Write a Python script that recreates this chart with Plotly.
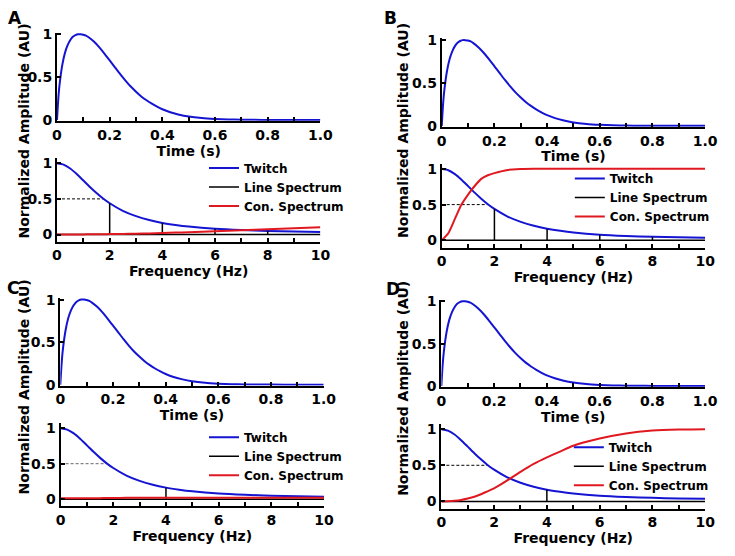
import plotly.graph_objects as go

# ---------------- data ----------------
time_s = [0, 0.005, 0.01, 0.02, 0.03, 0.04, 0.05, 0.06, 0.07, 0.08, 0.09, 0.10,
          0.11, 0.12, 0.14, 0.16, 0.18, 0.20, 0.22, 0.24, 0.26, 0.28, 0.30, 0.32,
          0.34, 0.36, 0.38, 0.40, 0.43, 0.46, 0.50, 0.55, 0.60, 0.65, 0.70, 0.75,
          0.80, 0.90, 1.0]
twitch_time = [0, 0.25, 0.42, 0.64, 0.78, 0.87, 0.93, 0.97, 0.99, 1.0, 1.0, 0.995,
               0.985, 0.965, 0.915, 0.85, 0.775, 0.695, 0.615, 0.535, 0.46, 0.39, 0.33, 0.275,
               0.23, 0.19, 0.155, 0.125, 0.09, 0.065, 0.04, 0.022, 0.012, 0.006, 0.003, 0.0015,
               0.0005, 0, 0]

freq_hz = [0, 0.25, 0.5, 0.75, 1, 1.25, 1.5, 1.75, 2, 2.5, 3, 3.5, 4, 4.5, 5, 6, 7, 8, 9, 10]
twitch_freq = [1.0, 0.98, 0.926, 0.848, 0.758, 0.667, 0.582, 0.505, 0.439, 0.333, 0.258,
               0.203, 0.163, 0.134, 0.111, 0.08, 0.062, 0.05, 0.042, 0.036]

con_A = [0, 0, 0.001, 0.001, 0.002, 0.003, 0.004, 0.005, 0.006, 0.009, 0.012, 0.016,
         0.021, 0.027, 0.033, 0.047, 0.061, 0.075, 0.089, 0.102]
con_B = [0, 0.1, 0.3, 0.5, 0.64, 0.76, 0.86, 0.91, 0.94, 0.985, 0.997, 1.0,
         1.0, 1.0, 1.0, 1.0, 1.0, 1.0, 1.0, 1.0]
con_C = [0.012, 0.012, 0.012, 0.012, 0.012, 0.013, 0.015, 0.017, 0.018, 0.019, 0.02, 0.02,
         0.02, 0.02, 0.02, 0.02, 0.02, 0.02, 0.02, 0.02]
con_D = [0, 0.002, 0.008, 0.02, 0.04, 0.065, 0.1, 0.14, 0.18, 0.29, 0.41, 0.52,
         0.61, 0.69, 0.77, 0.87, 0.94, 0.98, 0.995, 1.0]

lines_AB_freq = [2, 4, 6, 8]
lines_AB_amp = [0.44, 0.16, 0.08, 0.05]
lines_CD_freq = [4]
lines_CD_amp = [0.16]

half_level = 0.5
half_freq = 1.75

panel_labels = ["A", "B", "C", "D"]
legend_names = ["Twitch", "Line Spectrum", "Con. Spectrum"]
time_ticks = [0, 0.2, 0.4, 0.6, 0.8, 1.0]
time_ticktext = ["0", "0.2", "0.4", "0.6", "0.8", "1.0"]
freq_ticks = [0, 2, 4, 6, 8, 10]
freq_ticktext = ["0", "2", "4", "6", "8", "10"]
amp_ticks = [0, 0.5, 1]
amp_ticktext = ["0", "0.5", "1"]

# ---------------- styling ----------------
W, H = 735, 556
FONT = "DejaVu Sans"
BLUE = "#1414d2"
RED = "#e01820"
BLACK = "#000000"


def xd(a, b):
    return [a / W, b / W]


def yd(top, bottom):
    return [1 - bottom / H, 1 - top / H]


# pixel boxes (left, right, top, bottom) for each panel; legend (left, top) in px
panels = {
    "A": dict(top=(53.3, 323.3, 27.2, 117.6), bot=(53.3, 323.3, 155.9, 241.3),
              con=con_A, lf=lines_AB_freq, la=lines_AB_amp, leg=(204, 151), dash="#000"),
    "B": dict(top=(447.7, 717.7, 33.2, 123.6), bot=(447.7, 717.7, 161.6, 247.3),
              con=con_B, lf=lines_AB_freq, la=lines_AB_amp, leg=(579, 161.7), dash="#000"),
    "C": dict(top=(56.7, 326.7, 298.9, 388.6), bot=(57, 327, 427.2, 512.3),
              con=con_C, lf=lines_CD_freq, la=lines_CD_amp, leg=(204, 426.7), dash="#666"),
    "D": dict(top=(447.3, 717.7, 300.6, 389.9), bot=(447.3, 717.7, 428.1, 514.7),
              con=con_D, lf=lines_CD_freq, la=lines_CD_amp, leg=(578, 437), dash="#000"),
}

fig = go.Figure()
layout = dict(width=W, height=H, autosize=False,
              margin=dict(l=0, r=0, t=0, b=0),
              paper_bgcolor="white", plot_bgcolor="white",
              font=dict(family=FONT, size=14, color="black"),
              annotations=[])

tickfont = dict(family=FONT, size=14, color="black", weight="bold")
titlefont = dict(family=FONT, size=14, color="black", weight="bold")

axis_common = dict(showline=True, linecolor=BLACK, linewidth=2, ticks="inside",
                   ticklen=4, tickwidth=1.5, tickcolor=BLACK, showgrid=False,
                   zeroline=False, tickfont=tickfont, fixedrange=True)

for i, (key, p) in enumerate(panels.items()):
    n_top = 2 * i + 1
    n_bot = 2 * i + 2
    xa_t = "x" if n_top == 1 else f"x{n_top}"
    ya_t = "y" if n_top == 1 else f"y{n_top}"
    xa_b, ya_b = f"x{n_bot}", f"y{n_bot}"
    legname = "legend" if i == 0 else f"legend{i + 1}"

    # time-domain twitch
    fig.add_trace(go.Scatter(x=time_s, y=twitch_time, mode="lines",
                             line=dict(color=BLUE, width=2, shape="spline", smoothing=0.6),
                             xaxis=xa_t, yaxis=ya_t, showlegend=False, hoverinfo="skip"))

    # half amplitude dashed line
    fig.add_trace(go.Scatter(x=[0, half_freq], y=[half_level, half_level], mode="lines",
                             line=dict(color=p["dash"], width=1, dash="3px,2px"),
                             xaxis=xa_b, yaxis=ya_b, showlegend=False, hoverinfo="skip"))

    # frequency-domain twitch
    fig.add_trace(go.Scatter(x=freq_hz, y=twitch_freq, mode="lines", name=legend_names[0],
                             line=dict(color=BLUE, width=2, shape="spline", smoothing=0.6),
                             xaxis=xa_b, yaxis=ya_b, legend=legname, hoverinfo="skip"))

    # line spectrum (baseline + vertical lines)
    lx, ly = [0, 10], [0, 0]
    for f, a in zip(p["lf"], p["la"]):
        lx += [None, f, f]
        ly += [None, 0, a]
    fig.add_trace(go.Scatter(x=lx, y=ly, mode="lines", name=legend_names[1],
                             line=dict(color=BLACK, width=1.5),
                             xaxis=xa_b, yaxis=ya_b, legend=legname, hoverinfo="skip"))

    # continuous spectrum
    fig.add_trace(go.Scatter(x=freq_hz, y=p["con"], mode="lines", name=legend_names[2],
                             line=dict(color=RED, width=2, shape="spline", smoothing=0.6),
                             xaxis=xa_b, yaxis=ya_b, legend=legname, hoverinfo="skip"))

    l, r, t, b = p["top"]
    layout[f"xaxis{'' if n_top == 1 else n_top}"] = dict(
        axis_common, domain=xd(l, r), anchor=ya_t, range=[0, 1],
        tickvals=time_ticks, ticktext=time_ticktext,
        minor=dict(ticks="inside", dtick=0.1, tick0=0, ticklen=4, tickcolor=BLACK, tickwidth=1.5),
        title=dict(text="Time (s)", font=titlefont, standoff=0))
    layout[f"yaxis{'' if n_top == 1 else n_top}"] = dict(
        axis_common, domain=yd(t, b), anchor=xa_t, range=[-0.01, 1.02],
        tickvals=amp_ticks, ticktext=amp_ticktext)

    l, r, t, b = p["bot"]
    layout[f"xaxis{n_bot}"] = dict(
        axis_common, domain=xd(l, r), anchor=ya_b, range=[0, 10],
        tickvals=freq_ticks, ticktext=freq_ticktext,
        minor=dict(ticks="inside", dtick=1, tick0=0, ticklen=4, tickcolor=BLACK, tickwidth=1.5),
        title=dict(text="Frequency (Hz)", font=titlefont, standoff=0))
    layout[f"yaxis{n_bot}"] = dict(
        axis_common, domain=yd(t, b), anchor=xa_b, range=[-0.1, 1.07],
        tickvals=amp_ticks, ticktext=amp_ticktext)

    lx0, ly0 = p["leg"]
    layout[legname] = dict(x=lx0 / W, y=1 - ly0 / H, xanchor="left", yanchor="top",
                           bgcolor="rgba(0,0,0,0)", borderwidth=0,
                           font=dict(family=FONT, size=12, color="black", weight="bold"),
                           itemwidth=30, tracegroupgap=0,
                           entrywidth=90, entrywidthmode="pixels")

# panel letters
letter_pos = {"A": (10, 12), "B": (395, 12), "C": (8, 289), "D": (398, 290)}
for k, (px, py) in letter_pos.items():
    layout["annotations"].append(dict(text=k, x=px / W, y=1 - py / H, xref="paper", yref="paper",
                                      showarrow=False, xanchor="center", yanchor="middle",
                                      font=dict(family=FONT, size=17, color="black", weight="bold")))

# shared y titles per row/column
for (px, py) in [(19, 128), (408, 128), (19, 390), (408, 392)]:
    layout["annotations"].append(dict(text="Normalized Amplitude (AU)", x=px / W, y=1 - py / H,
                                      xref="paper", yref="paper", showarrow=False, textangle=-90,
                                      xanchor="center", yanchor="middle",
                                      font=dict(family=FONT, size=14, color="black", weight="bold")))

fig.update_layout(**layout)
fig.write_html("out.html", config={"displayModeBar": False},
               post_script="document.body.style.margin='0px';")
